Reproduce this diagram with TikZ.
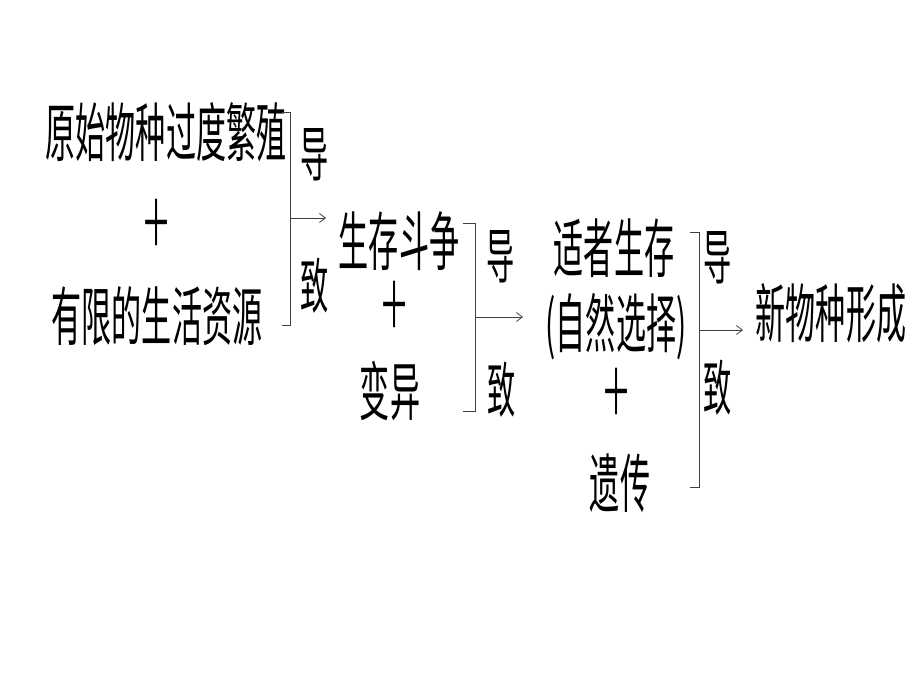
\documentclass[tikz,border=0pt]{standalone}
\usepackage{fontspec}
\usepackage{tikz}
\usetikzlibrary{arrows.meta,positioning}
\usepackage{xcolor}
\newfontfamily\cjk[FakeStretch=0.47]{Noto Sans CJK SC}
\definecolor{ink}{rgb}{0, 0, 0}
\definecolor{leadgray}{rgb}{0.25, 0.25, 0.25}

\begin{document}
\begin{tikzpicture}[x=1pt,y=-1pt]
	\tikzstyle{word}=[font=\cjk\fontsize{64}{70}\selectfont,text=ink,inner sep=0pt]
	\tikzstyle{leadword}=[font=\cjk\fontsize{60}{66}\selectfont,text=ink,inner sep=0pt]
	\tikzstyle{bracket}=[draw=leadgray,line width=0.9pt]
	\tikzstyle{leads}=[draw=leadgray,line width=0.8pt,-{Straight Barb[length=6pt,width=9pt]}]

	% Fix the page.
	\useasboundingbox (0,0) rectangle (920,690);

	% First group.
	\node (overbreed) at (166,132) [word] {原始物种过度繁殖};
	\node (plusA) at (157,223) [word] {＋};
	\node (scarce) at (157,316) [word] {有限的生活资源};

	% Second group.
	\node (struggle) at (399,241) [word] {生存斗争};
	\node (plusB) at (395,305) [word] {＋};
	\node (variation) at (390,391) [word] {变异};

	% Third group.
	\node (fittest) at (614,248) [word] {适者生存};
	\node (selection) at (616,327) [word] {(自然选择)};
	\node (plusC) at (617,392) [word] {＋};
	\node (heredity) at (620,483) [word] {遗传};

	\node (newspecies) at (831,313) [word] {新物种形成};

	% The brackets and their arrows.
	\coordinate (aTop) at (282,112);
	\coordinate (aBot) at (282,325);
	\coordinate (aMid) at (290,218);
	\coordinate (aEnd) at (326,218);
	\draw [bracket] (aTop) -- ++(8,0) |- (aBot);
	\draw [leads] (aMid) -- (aEnd);
	\node (leadA) at (315,155) [leadword] {导};
	\node (causeA) at (315,286) [leadword] {致};

	\coordinate (bTop) at (463,223);
	\coordinate (bBot) at (463,411);
	\coordinate (bMid) at (475,317);
	\coordinate (bEnd) at (523,317);
	\draw [bracket] (bTop) -- ++(12,0) |- (bBot);
	\draw [leads] (bMid) -- (bEnd);
	\node (leadB) at (501,257) [leadword] {导};
	\node (causeB) at (502,390) [leadword] {致};

	\coordinate (cTop) at (690,232);
	\coordinate (cBot) at (690,487);
	\coordinate (cMid) at (699,330);
	\coordinate (cEnd) at (743,330);
	\draw [bracket] (cTop) -- ++(9,0) |- (cBot);
	\draw [leads] (cMid) -- (cEnd);
	\node (leadC) at (718,258) [leadword] {导};
	\node (causeC) at (718,388) [leadword] {致};
\end{tikzpicture}
\end{document}
